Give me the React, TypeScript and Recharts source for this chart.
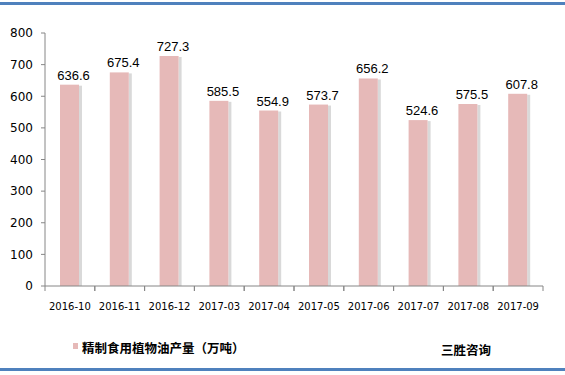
import React from "react";
import { BarChart, Bar, XAxis, YAxis, LabelList } from "recharts";

const months = [
  "2016-10",
  "2016-11",
  "2016-12",
  "2017-03",
  "2017-04",
  "2017-05",
  "2017-06",
  "2017-07",
  "2017-08",
  "2017-09",
];
const output = [636.6, 675.4, 727.3, 585.5, 554.9, 573.7, 656.2, 524.6, 575.5, 607.8];
const yTicks = [0, 100, 200, 300, 400, 500, 600, 700, 800];

const seriesName = "精制食用植物油产量（万吨）";
const brand = "三胜咨询";

const data = months.map((m, i) => ({ month: m, value: output[i] }));

const W = 565;
const H = 375;
const margin = { top: 33, right: 22, left: 0, bottom: 59 };
const yAxisWidth = 45;
const xAxisHeight = 30;
const plotBottom = H - margin.bottom - xAxisHeight;
const band = (W - margin.left - margin.right - yAxisWidth) / months.length;

const axisColor = "#868686";
const barColor = "#E6B9B8";

const ShadowBar = (props: any) => {
  const { x, y, width, height } = props;
  if (!height || height <= 0) return null;
  return (
    <g>
      <rect x={x + width} y={y + 1} width={3} height={height - 1} fill="#D9D9D9" />
      <rect x={x} y={y} width={width} height={height} fill={barColor} />
    </g>
  );
};

const MonthTick = (props: any) => {
  const { x, payload } = props;
  const left = x - band / 2;
  const right = x + band / 2;
  return (
    <g>
      <line x1={left} x2={left} y1={plotBottom} y2={plotBottom + 5} stroke={axisColor} />
      <line x1={right} x2={right} y1={plotBottom} y2={plotBottom + 5} stroke={axisColor} />
      <text
        x={x}
        y={plotBottom + 24}
        textAnchor="middle"
        fontFamily="DejaVu Sans"
        fontSize={10}
        fill="#000"
      >
        {payload.value}
      </text>
    </g>
  );
};

export default function App() {
  return (
    <div
      style={{
        position: "absolute",
        left: 0,
        top: 0,
        width: W,
        height: H,
        background: "#fff",
        overflow: "hidden",
      }}
    >
      <div
        style={{
          position: "absolute",
          left: 0,
          top: 2,
          width: W,
          height: 3,
          background: "#4F81BD",
        }}
      />
      <div
        style={{
          position: "absolute",
          left: 0,
          top: 368,
          width: W,
          height: 3,
          background: "#4F81BD",
        }}
      />
      <BarChart width={W} height={H} data={data} margin={margin} barCategoryGap={0}>
        <XAxis
          dataKey="month"
          height={xAxisHeight}
          interval={0}
          tickLine={false}
          axisLine={{ stroke: axisColor }}
          tick={<MonthTick />}
        />
        <YAxis
          width={yAxisWidth}
          domain={[0, 800]}
          ticks={yTicks}
          interval={0}
          tickSize={4}
          tickMargin={8}
          axisLine={{ stroke: axisColor }}
          tickLine={{ stroke: axisColor }}
          tick={{ fontFamily: "DejaVu Sans", fontSize: 12, fill: "#000" }}
        />
        <Bar dataKey="value" barSize={19} shape={<ShadowBar />} isAnimationActive={false}>
          <LabelList
            dataKey="value"
            position="top"
            offset={5}
            dx={4}
            fill="#000"
            fontSize={13}
            fontFamily="Liberation Sans"
            formatter={(v: any) => Number(v).toFixed(1)}
          />
        </Bar>
      </BarChart>
      <div
        style={{
          position: "absolute",
          left: 73,
          top: 343,
          width: 5,
          height: 6,
          background: barColor,
        }}
      />
      <div
        style={{
          position: "absolute",
          left: 82,
          top: 339,
          fontFamily: "Noto Sans CJK SC",
          fontWeight: "bold",
          fontSize: 12.5,
          lineHeight: "18px",
          color: "#000",
          whiteSpace: "nowrap",
        }}
      >
        {seriesName}
      </div>
      <div
        style={{
          position: "absolute",
          left: 441,
          top: 341,
          fontFamily: "Noto Sans CJK SC",
          fontWeight: "bold",
          fontSize: 12.5,
          lineHeight: "18px",
          color: "#000",
          whiteSpace: "nowrap",
        }}
      >
        {brand}
      </div>
    </div>
  );
}
